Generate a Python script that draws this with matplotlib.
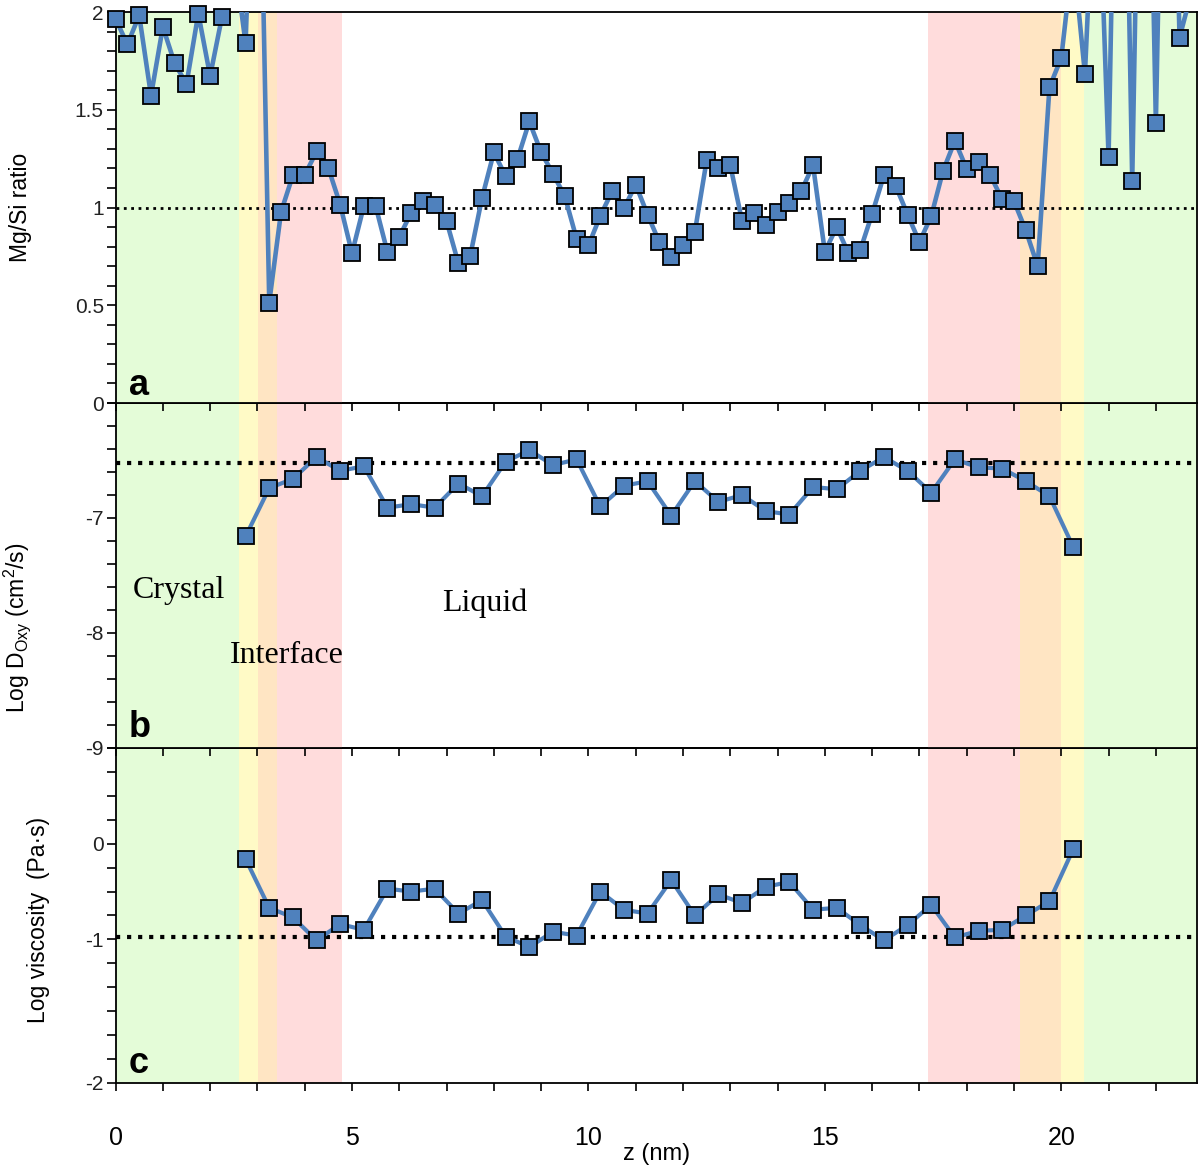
import matplotlib
matplotlib.use("Agg")
import numpy as np
import matplotlib.pyplot as plt
from matplotlib.ticker import MultipleLocator, FixedLocator

plt.rcParams['font.family'] = ['Liberation Sans', 'DejaVu Sans']
plt.rcParams['mathtext.default'] = 'regular'

# ---- data ----
# panel a: Mg/Si ratio every 0.25 nm (values > 2 run off the top)
z_a = [0.0, 0.25, 0.5, 0.75, 1.0, 1.25, 1.5, 1.75, 2.0, 2.25, 2.5, 2.75,
       3.0, 3.25, 3.5, 3.75, 4.0, 4.25, 4.5, 4.75, 5.0, 5.25, 5.5, 5.75,
       6.0, 6.25, 6.5, 6.75, 7.0, 7.25, 7.5, 7.75, 8.0, 8.25, 8.5, 8.75,
       9.0, 9.25, 9.5, 9.75, 10.0, 10.25, 10.5, 10.75, 11.0, 11.25, 11.5, 11.75,
       12.0, 12.25, 12.5, 12.75, 13.0, 13.25, 13.5, 13.75, 14.0, 14.25, 14.5, 14.75,
       15.0, 15.25, 15.5, 15.75, 16.0, 16.25, 16.5, 16.75, 17.0, 17.25, 17.5, 17.75,
       18.0, 18.25, 18.5, 18.75, 19.0, 19.25, 19.5, 19.75, 20.0, 20.25, 20.5, 20.75,
       21.0, 21.25, 21.5, 21.75, 22.0, 22.25, 22.5, 22.75]
mgsi = [1.966, 1.834, 1.983, 1.572, 1.924, 1.737, 1.632, 1.992, 1.672, 1.975, 2.30, 1.839,
        3.60, 0.514, 0.978, 1.165, 1.165, 1.287, 1.202, 1.015, 0.766, 1.007, 1.007, 0.772,
        0.849, 0.973, 1.032, 1.015, 0.930, 0.715, 0.752, 1.049, 1.282, 1.160, 1.248, 1.440,
        1.282, 1.173, 1.058, 0.840, 0.806, 0.956, 1.083, 0.995, 1.117, 0.964, 0.823, 0.749,
        0.806, 0.874, 1.241, 1.202, 1.216, 0.930, 0.973, 0.913, 0.978, 1.024, 1.083, 1.216,
        0.774, 0.900, 0.766, 0.783, 0.968, 1.165, 1.109, 0.964, 0.823, 0.956, 1.188, 1.341,
        1.197, 1.233, 1.165, 1.041, 1.032, 0.883, 0.701, 1.615, 1.766, 2.30, 1.683, 3.0,
        1.258, 4.5, 1.134, 4.5, 1.431, 4.5, 1.868, 2.1]

# panels b and c: every 0.5 nm across the liquid + interface
z_bc = [2.75, 3.25, 3.75, 4.25, 4.75, 5.25, 5.75, 6.25, 6.75, 7.25, 7.75, 8.25,
        8.75, 9.25, 9.75, 10.25, 10.75, 11.25, 11.75, 12.25, 12.75, 13.25, 13.75, 14.25,
        14.75, 15.25, 15.75, 16.25, 16.75, 17.25, 17.75, 18.25, 18.75, 19.25, 19.75, 20.25]
log_d = [-7.16, -6.74, -6.66, -6.47, -6.59, -6.55, -6.91, -6.88, -6.91, -6.70, -6.81, -6.51,
         -6.41, -6.54, -6.49, -6.90, -6.72, -6.68, -6.98, -6.68, -6.86, -6.80, -6.94, -6.97,
         -6.73, -6.75, -6.59, -6.47, -6.59, -6.78, -6.49, -6.56, -6.57, -6.68, -6.81, -7.25]
log_visc = [-0.16, -0.67, -0.77, -1.01, -0.84, -0.90, -0.47, -0.50, -0.47, -0.73, -0.59, -0.97,
            -1.08, -0.92, -0.96, -0.50, -0.69, -0.73, -0.38, -0.75, -0.53, -0.62, -0.45, -0.40,
            -0.69, -0.67, -0.85, -1.01, -0.85, -0.64, -0.98, -0.91, -0.90, -0.75, -0.60, -0.06]

# reference (dotted) levels
ref_a = 1.0
ref_b = -6.52
ref_c = -0.97

# shaded zones
zone_start = [0.0, 2.62, 3.01, 3.42, 17.19, 19.13, 20.0, 20.49]
zone_end = [2.62, 3.01, 3.42, 4.78, 19.13, 20.0, 20.49, 22.9]
zone_color = ['#e4fcd8', '#fffac6', '#ffe5c3', '#ffdcdc',
              '#ffdcdc', '#ffe5c3', '#fffac6', '#e4fcd8']

blue = '#4f81bd'
XMAX = 22.87
MS = 11.5

fig = plt.figure(figsize=(12, 11.67), dpi=100)
gs = fig.add_gridspec(3, 1, height_ratios=[391, 345, 335], left=0.0963, right=0.9975,
                      top=0.9897, bottom=0.072, hspace=0)
axes = [fig.add_subplot(gs[i]) for i in range(3)]
ax_a, ax_b, ax_c = axes

for k, ax in enumerate(axes):
    ax.set_facecolor('none')
    ax.set_zorder(3 - k)
    ax.set_xlim(0, XMAX)
    for s, e, c in zip(zone_start, zone_end, zone_color):
        ax.axvspan(s, e, color=c, lw=0, zorder=0)
    for sp in ax.spines.values():
        sp.set_linewidth(1.3)
    ax.xaxis.set_major_locator(MultipleLocator(5))
    ax.xaxis.set_minor_locator(MultipleLocator(1))
    ax.tick_params(axis='x', which='both', direction='out', length=6, width=1.2,
                   labelsize=18, pad=25, labelbottom=(k == 2))
    ax.tick_params(axis='y', which='both', direction='out', length=6.5, width=1.2,
                   labelsize=15, pad=2, labelcolor='#222222')

# panel a
ax_a.set_ylim(0, 2)
ax_a.axhline(ref_a, color='k', ls=':', lw=2, zorder=1.5)
ax_a.plot(z_a, mgsi, color=blue, lw=3.3, zorder=3)
za = np.array(z_a)
va = np.array(mgsi)
keep = va <= 2
ax_a.plot(za[keep], va[keep], ls='none', marker='s', ms=MS, mfc=blue, mec='k',
          mew=1.3, clip_on=False, zorder=4)
ax_a.yaxis.set_major_locator(FixedLocator([0, 0.5, 1, 1.5, 2]))
ax_a.set_yticklabels(['0', '0.5', '1', '1.5', '2'])
ax_a.yaxis.set_minor_locator(MultipleLocator(0.1))
ax_a.set_ylabel('Mg/Si ratio', fontsize=16.5)
ax_a.yaxis.set_label_coords(-0.077, 0.5)

# panel b
ax_b.set_ylim(-9, -6)
ax_b.axhline(ref_b, color='k', ls=':', lw=3, zorder=1.5)
ax_b.plot(z_bc, log_d, color=blue, lw=3, marker='s', ms=MS, mfc=blue, mec='k',
          mew=1.3, zorder=3)
ax_b.yaxis.set_major_locator(FixedLocator([-7, -8, -9]))
ax_b.set_yticklabels(['-7', '-8', '-9'])
ax_b.yaxis.set_minor_locator(MultipleLocator(0.2))
ax_b.set_ylabel('Log D$_{Oxy}$ (cm$^2$/s)', fontsize=16.5)
ax_b.yaxis.set_label_coords(-0.076, 0.35)

serif = ['Liberation Serif', 'DejaVu Serif']
ax_b.text(0.37, -7.70, 'Crystal', family=serif, fontsize=23, va='baseline', ha='left')
ax_b.text(2.42, -8.26, 'Interface', family=serif, fontsize=23, va='baseline', ha='left')
ax_b.text(6.9, -7.81, 'Liquid', family=serif, fontsize=23, va='baseline', ha='left')

# panel c
ax_c.set_ylim(-2.5, 1.0)
ax_c.axhline(ref_c, color='k', ls=':', lw=3, zorder=1.5)
ax_c.plot(z_bc, log_visc, color=blue, lw=3, marker='s', ms=MS, mfc=blue, mec='k',
          mew=1.3, zorder=3)
ax_c.yaxis.set_major_locator(FixedLocator([0, -1, -2.5]))
ax_c.set_yticklabels(['0', '-1', '-2'])
ax_c.yaxis.set_minor_locator(MultipleLocator(0.25))
ax_c.set_ylabel('Log viscosity  (Pa·s)', fontsize=16.5)
ax_c.yaxis.set_label_coords(-0.061, 0.487)
ax_c.xaxis.set_major_locator(FixedLocator([0, 5, 10, 15, 20]))
ax_c.set_xticklabels(['0', '5', '10', '15', '20'])
ax_c.set_xlabel('z (nm)', fontsize=17, labelpad=-5)

for ax, letter, yb in zip(axes, ['a', 'b', 'c'], [0.02, 0.032, 0.03]):
    ax.text(0.012, yb, letter, transform=ax.transAxes, fontsize=26,
            fontweight='bold', va='baseline', ha='left', zorder=5)

fig.savefig('out.png', dpi=100, facecolor='white')
